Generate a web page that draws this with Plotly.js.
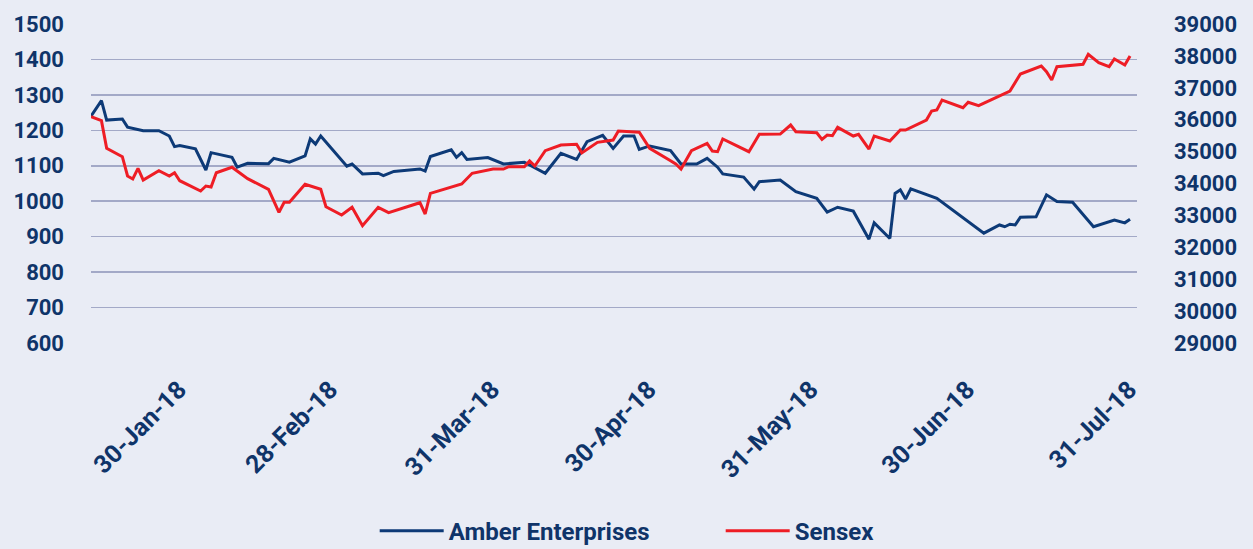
<!DOCTYPE html>
<html>
<head>
<meta charset="utf-8">
<script src="https://cdn.plot.ly/plotly-3.0.1.min.js"></script>
<style>
  html, body { margin: 0; padding: 0; background: #e9ecf5; }
  #chart { width: 1253px; height: 549px; }
</style>
</head>
<body>
<div id="chart"></div>
<script>
// ---- Data ----
const amberDates = [
  '2018-01-30','2018-02-01','2018-02-02','2018-02-05','2018-02-06','2018-02-09','2018-02-12','2018-02-14',
  '2018-02-15','2018-02-16','2018-02-19','2018-02-21','2018-02-22','2018-02-26','2018-02-27','2018-03-01',
  '2018-03-05','2018-03-06','2018-03-09','2018-03-12','2018-03-13','2018-03-14','2018-03-15','2018-03-20',
  '2018-03-21','2018-03-23','2018-03-26','2018-03-27','2018-03-29','2018-04-03','2018-04-04','2018-04-05',
  '2018-04-09','2018-04-10','2018-04-11','2018-04-12','2018-04-16','2018-04-19','2018-04-23','2018-04-27',
  '2018-04-30','2018-05-03','2018-05-05','2018-05-08','2018-05-10','2018-05-12','2018-05-14','2018-05-15',
  '2018-05-17','2018-05-21','2018-05-23','2018-05-26','2018-05-28','2018-05-30','2018-05-31','2018-06-04',
  '2018-06-06','2018-06-07','2018-06-11','2018-06-14','2018-06-18','2018-06-20','2018-06-22','2018-06-25',
  '2018-06-28','2018-06-29','2018-07-02','2018-07-03','2018-07-04','2018-07-05','2018-07-06','2018-07-11',
  '2018-07-20','2018-07-23','2018-07-24','2018-07-25','2018-07-26','2018-07-27','2018-07-30','2018-08-01',
  '2018-08-03','2018-08-06','2018-08-10','2018-08-14','2018-08-16','2018-08-17'
];
const amberValues = [
  1240,1284,1229,1232,1209,1199,1199,1184,
  1154,1157,1148,1088,1137,1124,1096,1107,
  1106,1121,1110,1128,1176,1161,1184,1099,
  1105,1077,1079,1072,1084,1091,1085,1126,
  1145,1124,1137,1118,1123,1105,1110,1079,
  1135,1118,1168,1186,1149,1184,1184,1146,
  1156,1143,1105,1105,1121,1096,1077,1068,
  1034,1055,1060,1027,1008,969,983,972,
  893,939,895,1022,1032,1006,1035,1008,
  910,933,928,935,933,955,956,1018,
  999,997,928,947,939,949
];

const sensexDates = [
  '2018-01-30','2018-02-01','2018-02-02','2018-02-05','2018-02-06','2018-02-07','2018-02-08','2018-02-09',
  '2018-02-12','2018-02-14','2018-02-15','2018-02-16','2018-02-20','2018-02-21','2018-02-22','2018-02-23',
  '2018-02-26','2018-03-01','2018-03-05','2018-03-07','2018-03-08','2018-03-09','2018-03-12','2018-03-15',
  '2018-03-16','2018-03-19','2018-03-21','2018-03-23','2018-03-26','2018-03-28','2018-04-03','2018-04-04',
  '2018-04-05','2018-04-11','2018-04-13','2018-04-17','2018-04-19','2018-04-20','2018-04-23','2018-04-24',
  '2018-04-25','2018-04-27','2018-04-30','2018-05-03','2018-05-04','2018-05-07','2018-05-10','2018-05-11',
  '2018-05-15','2018-05-17','2018-05-21','2018-05-22','2018-05-23','2018-05-25','2018-05-28','2018-05-29',
  '2018-05-30','2018-05-31','2018-06-05','2018-06-07','2018-06-11','2018-06-13','2018-06-14','2018-06-18',
  '2018-06-19','2018-06-20','2018-06-21','2018-06-22','2018-06-25','2018-06-26','2018-06-28','2018-06-29',
  '2018-07-02','2018-07-04','2018-07-05','2018-07-09','2018-07-10','2018-07-11','2018-07-12','2018-07-16',
  '2018-07-17','2018-07-19','2018-07-25','2018-07-26','2018-07-27','2018-07-31','2018-08-01','2018-08-02',
  '2018-08-03','2018-08-08','2018-08-09','2018-08-11','2018-08-13','2018-08-14','2018-08-16','2018-08-17'
];
const sensexValues = [
  36094,35969,35103,34840,34235,34141,34476,34109,
  34401,34235,34338,34087,33765,33921,33890,34338,
  34508,34150,33818,33097,33410,33410,33975,33818,
  33272,33012,33254,32677,33254,33085,33398,33044,
  33692,33984,34320,34454,34454,34527,34527,34705,
  34548,35028,35207,35229,34960,35291,35363,35646,
  35605,35103,34715,34611,34454,35028,35260,35019,
  34997,35395,34997,35542,35551,35834,35624,35592,
  35385,35520,35498,35761,35489,35542,35081,35489,
  35332,35677,35677,35990,36273,36304,36617,36376,
  36545,36439,36900,37172,37433,37683,37505,37244,
  37662,37737,38050,37787,37662,37903,37715,37997
];

const tickDates  = ['2018-01-30','2018-02-28','2018-03-31','2018-04-30','2018-05-31','2018-06-30','2018-07-31'];
const tickLabels = ['30-Jan-18','28-Feb-18','31-Mar-18','30-Apr-18','31-May-18','30-Jun-18','31-Jul-18'];
const seriesNames = ['Amber Enterprises', 'Sensex'];

// ---- Styles ----
const NAVY_TEXT = '#0f3469';
const NAVY_LINE = '#0d3a77';
const RED_LINE = '#ee1d25';
const BG = '#e9ecf5';
const GRID = '#a3a9c7';
const FAMILY = 'Roboto, "Open Sans", sans-serif';
const tickFont = { family: FAMILY, size: 22, color: NAVY_TEXT, weight: 700 };
const xTickFont = { family: FAMILY, size: 25, color: NAVY_TEXT, weight: 700 };

const traces = [
  {
    x: amberDates, y: amberValues, name: seriesNames[0],
    type: 'scatter', mode: 'lines', yaxis: 'y',
    line: { color: NAVY_LINE, width: 3 }
  },
  {
    x: sensexDates, y: sensexValues, name: seriesNames[1],
    type: 'scatter', mode: 'lines', yaxis: 'y2',
    line: { color: RED_LINE, width: 3 }
  }
];

const layout = {
  width: 1253, height: 549,
  paper_bgcolor: BG, plot_bgcolor: BG,
  margin: { l: 91, r: 116, t: 24, b: 206, pad: 0, autoexpand: false },
  showlegend: true,
  legend: {
    orientation: 'h', x: 0.602, xanchor: 'center', y: -0.59, yanchor: 'middle',
    font: { family: FAMILY, size: 24, color: NAVY_TEXT, weight: 700 },
    bgcolor: 'rgba(0,0,0,0)', entrywidth: 267, itemwidth: 64
  },
  xaxis: {
    type: 'date',
    range: ['2018-01-30', '2018-08-18 08:00'],
    tickmode: 'array', tickvals: tickDates, ticktext: tickLabels,
    tickangle: -45, tickfont: xTickFont,
    ticks: '', showgrid: false, zeroline: false, showline: false,
    ticklabelstandoff: 26, ticklabelshift: 88
  },
  yaxis: {
    range: [600, 1500], dtick: 100, tick0: 600, tickformat: 'd',
    tickfont: tickFont, ticks: '',
    showgrid: true, gridcolor: GRID, gridwidth: 1.6,
    zeroline: false, showline: false, ticklabelstandoff: 26
  },
  yaxis2: {
    range: [29000, 39000], dtick: 1000, tick0: 29000, tickformat: 'd',
    overlaying: 'y', side: 'right',
    tickfont: tickFont, ticks: '',
    showgrid: false, zeroline: false, showline: false, ticklabelstandoff: 36
  }
};

Plotly.newPlot('chart', traces, layout, { displayModeBar: false, staticPlot: true });
</script>
</body>
</html>
